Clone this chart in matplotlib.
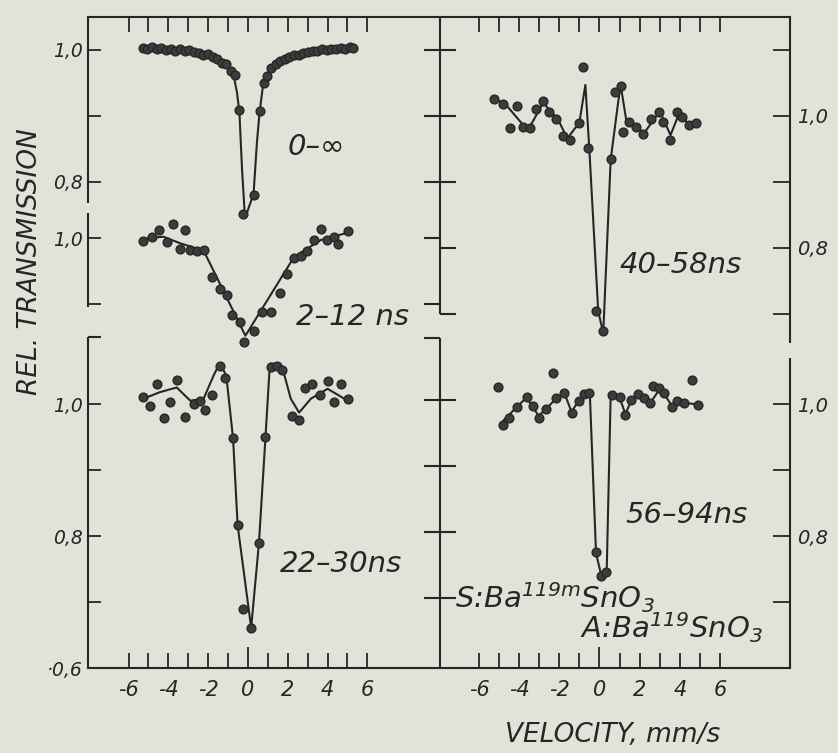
import matplotlib
matplotlib.use('Agg')
import matplotlib.pyplot as plt
import numpy as np

# ---------------- data (velocity mm/s, relative transmission) ----------------
# Left panel
v_inf = [-5.28, -5.05, -4.82, -4.58, -4.35, -4.12, -3.88, -3.65, -3.42, -3.18, -2.95, -2.72,
         -2.48, -2.25, -2.02, -1.78, -1.55, -1.32, -1.08, -0.85, -0.63, -0.43, -0.23, 0.28,
         0.58, 0.80, 0.98, 1.18, 1.40, 1.62, 1.85, 2.08, 2.32, 2.55, 2.78, 3.02, 3.25, 3.48,
         3.72, 3.95, 4.18, 4.42, 4.65, 4.88, 5.12, 5.28]
t_inf = [1.003, 1.002, 1.004, 1.001, 1.003, 1.000, 1.002, 0.999, 1.001, 0.998, 1.000, 0.997,
         0.996, 0.993, 0.994, 0.990, 0.987, 0.981, 0.978, 0.968, 0.962, 0.909, 0.751, 0.781,
         0.907, 0.950, 0.960, 0.972, 0.979, 0.984, 0.986, 0.990, 0.993, 0.992, 0.996, 0.997,
         0.999, 0.998, 1.001, 1.000, 1.002, 1.001, 1.003, 1.002, 1.004, 1.003]
fit_v_inf = [-5.3, -4.0, -3.0, -2.2, -1.6, -1.2, -0.9, -0.7, -0.55, -0.43, -0.3, -0.15,
             0.28, 0.45, 0.58, 0.75, 0.95, 1.3, 1.8, 2.5, 3.5, 5.3]
fit_t_inf = [1.003, 1.002, 0.999, 0.995, 0.988, 0.980, 0.970, 0.958, 0.935, 0.905, 0.82, 0.745,
             0.782, 0.860, 0.905, 0.945, 0.962, 0.977, 0.987, 0.994, 0.999, 1.003]

v_2_12 = [-5.26, -4.84, -4.45, -4.05, -3.78, -3.44, -3.16, -2.90, -2.57, -2.20, -1.81, -1.42,
          -1.05, -0.80, -0.38, -0.18, 0.29, 0.72, 1.17, 1.61, 1.94, 2.31, 2.65, 2.99, 3.32,
          3.66, 3.96, 4.30, 4.50, 5.01]
t_2_12 = [0.996, 1.001, 1.012, 0.994, 1.021, 0.984, 1.012, 0.982, 0.981, 0.982, 0.941, 0.922,
          0.914, 0.884, 0.873, 0.843, 0.859, 0.888, 0.888, 0.917, 0.946, 0.969, 0.973, 0.981,
          0.997, 1.013, 0.997, 1.001, 0.991, 1.010]
fit_v_2_12 = [-5.26, -4.25, -3.41, -2.23, -0.13, 2.31, 3.66, 5.01]
fit_t_2_12 = [0.999, 1.002, 0.992, 0.981, 0.852, 0.971, 0.997, 1.008]

v_22_30 = [-5.26, -4.94, -4.57, -4.21, -3.93, -3.55, -3.16, -2.70, -2.40, -2.15, -1.81, -1.42,
           -1.14, -0.75, -0.52, -0.24, 0.16, 0.55, 0.88, 1.14, 1.47, 1.73, 2.23, 2.57, 2.85,
           3.24, 3.63, 4.00, 4.30, 4.67, 5.04]
t_22_30 = [1.011, 0.997, 1.031, 0.979, 1.003, 1.036, 0.981, 1.000, 1.005, 0.991, 1.014, 1.058,
           1.039, 0.948, 0.816, 0.690, 0.661, 0.789, 0.950, 1.056, 1.058, 1.051, 0.982, 0.976,
           1.025, 1.030, 1.014, 1.035, 1.003, 1.030, 1.007]
fit_v_22_30 = [-5.26, -4.42, -3.58, -2.90, -2.23, -1.73, -1.42, -1.09, -0.75, -0.52, 0.16, 0.55,
               0.88, 1.10, 1.47, 1.81, 2.15, 2.57, 3.16, 4.00, 5.01]
fit_t_22_30 = [1.008, 1.018, 1.025, 1.005, 1.008, 1.043, 1.062, 1.043, 0.948, 0.816, 0.661, 0.789,
               0.950, 1.061, 1.061, 1.046, 1.008, 0.987, 1.008, 1.023, 1.005]

# Right panel
v_40_58 = [-5.27, -4.78, -4.43, -4.13, -3.83, -3.48, -3.18, -2.79, -2.49, -2.14, -1.79, -1.49,
           -1.04, -0.80, -0.57, -0.15, 0.20, 0.57, 0.77, 1.05, 1.19, 1.49, 1.84, 2.19, 2.59,
           2.99, 3.18, 3.53, 3.88, 4.13, 4.48, 4.83]
t_40_58 = [1.026, 1.018, 0.982, 1.015, 0.983, 0.982, 1.011, 1.023, 1.006, 0.996, 0.970, 0.964,
           0.989, 1.074, 0.952, 0.705, 0.674, 0.935, 1.036, 1.045, 0.976, 0.991, 0.983, 0.973,
           0.995, 1.006, 0.991, 0.964, 1.006, 0.998, 0.986, 0.989]
fit_v_40_58 = [-5.20, -4.71, -3.79, -3.46, -2.80, -2.05, -1.60, -1.00, -0.70, -0.51, -0.06, 0.19,
               0.56, 1.05, 1.35, 1.85, 2.22, 3.01, 3.54, 3.97, 4.34, 4.87]
fit_t_40_58 = [1.025, 1.019, 0.986, 0.984, 1.020, 0.994, 0.966, 0.990, 1.047, 0.953, 0.704, 0.671,
               0.934, 1.048, 0.991, 0.984, 0.974, 1.007, 0.971, 1.004, 0.991, 0.989]

v_56_94 = [-5.07, -4.78, -4.48, -4.13, -3.63, -3.33, -3.03, -2.64, -2.29, -2.14, -1.74, -1.39,
           -1.04, -0.75, -0.50, -0.15, 0.10, 0.35, 0.65, 1.00, 1.29, 1.59, 1.94, 2.24, 2.54,
           2.68, 2.99, 3.23, 3.63, 3.88, 4.23, 4.63, 4.93]
t_56_94 = [1.026, 0.968, 0.979, 0.995, 1.011, 0.997, 0.979, 0.992, 1.047, 1.009, 1.017, 0.986,
           1.005, 1.015, 1.017, 0.776, 0.740, 0.746, 1.014, 1.010, 0.983, 1.006, 1.015, 1.009,
           1.001, 1.027, 1.024, 1.016, 0.995, 1.005, 1.002, 1.036, 0.998]
fit_v_56_94 = [-4.78, -4.13, -3.63, -3.03, -2.64, -2.14, -1.74, -1.39, -1.04, -0.48, -0.17, 0.11,
               0.36, 0.56, 1.00, 1.29, 1.59, 1.94, 2.54, 2.99, 3.23, 3.63, 3.88, 4.23, 4.93]
fit_t_56_94 = [0.975, 0.995, 1.010, 0.982, 0.993, 1.009, 1.016, 0.988, 1.005, 1.017, 0.774, 0.738,
               0.744, 1.014, 1.010, 0.985, 1.005, 1.014, 1.002, 1.022, 1.015, 0.996, 1.004, 1.002,
               0.999]

labels_left = ['0–∞', '2–12 ns', '22–30ns']
labels_right = ['40–58ns', '56–94ns']
vel_ticks = [-6, -5, -4, -3, -2, -1, 0, 1, 2, 3, 4, 5, 6]
source_label = 'S:Ba$^{119m}$SnO$_3$'
absorber_label = 'A:Ba$^{119}$SnO$_3$'
xlabel = 'VELOCITY, mm/s'
ylabel = 'REL. TRANSMISSION'

# ---------------- layout / style ----------------
PAPER = '#e3e2d9'
INK = '#262626'
LW = 1.5
W, H = 838, 753
Y0, Y1 = 0.6, 0.6 + 651 / 660.0
OFF_INF, OFF_212, OFF_2230 = 0.5364, 0.2515, 0.0
OFF_4058, OFF_5694 = 0.4364, 0.0
XL = (-8.04, 9.65)
XR = (-7.94, 9.49)

plt.rcParams['font.family'] = ['DejaVu Sans']
plt.rcParams['axes.unicode_minus'] = False
plt.rcParams['mathtext.fontset'] = 'custom'
plt.rcParams['mathtext.rm'] = 'DejaVu Sans:italic'
plt.rcParams['mathtext.it'] = 'DejaVu Sans:italic'
plt.rcParams['mathtext.default'] = 'it'

fig = plt.figure(figsize=(W / 100, H / 100), dpi=100, facecolor=PAPER)
bottom = (H - 668) / H
height = (668 - 17) / H
axL = fig.add_axes([88 / W, bottom, (440 - 88) / W, height])
axR = fig.add_axes([440 / W, bottom, (790 - 440) / W, height])

for ax, xl in ((axL, XL), (axR, XR)):
    ax.set_facecolor('none')
    ax.set_xlim(*xl)
    ax.set_ylim(Y0, Y1)
    ax.spines['left'].set_visible(False)
    ax.spines['right'].set_visible(False)
    for s in ('top', 'bottom'):
        ax.spines[s].set_linewidth(LW)
        ax.spines[s].set_color(INK)
    ax.set_xticks(vel_ticks)
    ax.set_xticklabels([str(t) if t % 2 == 0 else '' for t in vel_ticks])
    ax.tick_params(axis='x', direction='in', top=True, bottom=True, length=11, width=1.3,
                   colors=INK, labelsize=15, pad=9)
    for lab in ax.get_xticklabels():
        lab.set_style('italic')
    for tk, val in zip(ax.xaxis.get_major_ticks(), vel_ticks):
        if val == 0:
            tk.tick1line.set_markersize(15)

# left outer axis ticks / labels
yt_left = [OFF_INF + 1.0, OFF_INF + 0.9, OFF_INF + 0.8, OFF_212 + 1.0, OFF_212 + 0.9,
           1.0, 0.9, 0.8, 0.7, 0.6]
yl_left = ['1,0', '', '0,8', '1,0', '', '1,0', '', '0,8', '', '·0,6']
axL.set_yticks(yt_left)
axL.set_yticklabels(yl_left)
axL.tick_params(axis='y', direction='in', left=True, right=False, length=9.4, width=1.3,
                colors=INK, labelsize=13.5, pad=4)
for lab in axL.get_yticklabels():
    lab.set_style('italic')

yt_right = [OFF_4058 + 1.1, OFF_4058 + 1.0, OFF_4058 + 0.9, OFF_4058 + 0.8, OFF_4058 + 0.7,
            1.0, 0.9, 0.8, 0.7]
yl_right = ['', '1,0', '', '0,8', '', '1,0', '', '0,8', '']
axR.yaxis.tick_right()
axR.set_yticks(yt_right)
axR.set_yticklabels(yl_right)
axR.tick_params(axis='y', direction='in', right=True, left=False, labelright=True,
                labelleft=False, length=12, width=1.3, colors=INK, labelsize=14, pad=5)
for lab in axR.get_yticklabels():
    lab.set_style('italic')

def seg(ax, x0, x1, y0, y1):
    ax.plot([x0, x1], [y0, y1], color=INK, lw=LW, clip_on=False, solid_capstyle='butt')

# left outer axis broken segments
seg(axL, XL[0], XL[0], Y1, OFF_INF + 0.768)
seg(axL, XL[0], XL[0], OFF_212 + 1.038, OFF_212 + 0.896)
seg(axL, XL[0], XL[0], 1.1015, Y0)
seg(axL, XL[0], XL[0] + 0.65, 1.1015, 1.1015)

# divider
dxl = 0.8
seg(axL, XL[1], XL[1], Y1, 1.1364)
seg(axL, XL[1], XL[1], 1.10, Y0)
seg(axL, XL[1] - dxl, XL[1], 1.10, 1.10)
for y in (OFF_INF + 1.0, OFF_INF + 0.9, OFF_INF + 0.8, 1.006, 0.906, 0.806, 0.706):
    seg(axL, XL[1] - dxl, XL[1] + dxl, y, y)
for y in (OFF_212 + 1.0, OFF_212 + 0.9):
    seg(axL, XL[1] - dxl, XL[1], y, y)
for y in (OFF_4058 + 0.8, OFF_4058 + 0.7):
    seg(axR, XR[0], XR[0] + dxl, y, y)

# right outer axis broken segments
seg(axR, XR[1], XR[1], Y1, OFF_4058 + 0.656)
seg(axR, XR[1], XR[1], 1.0697, Y0)

# ---------------- spectra ----------------
mk = dict(ls='none', marker='o', ms=6.3, mfc='#3c3c3c', mec=INK, mew=1.0, zorder=3)
ln = dict(color=INK, lw=1.5, zorder=2)

axL.plot(fit_v_inf, np.array(fit_t_inf) + OFF_INF, **ln)
axL.plot(v_inf, np.array(t_inf) + OFF_INF, **mk)
axL.plot(fit_v_2_12, np.array(fit_t_2_12) + OFF_212, **ln)
axL.plot(v_2_12, np.array(t_2_12) + OFF_212, **mk)
axL.plot(fit_v_22_30, np.array(fit_t_22_30) + OFF_2230, **ln)
axL.plot(v_22_30, np.array(t_22_30) + OFF_2230, **mk)

axR.plot(fit_v_40_58, np.array(fit_t_40_58) + OFF_4058, **ln)
axR.plot(v_40_58, np.array(t_40_58) + OFF_4058, **mk)
axR.plot(fit_v_56_94, np.array(fit_t_56_94) + OFF_5694, **ln)
axR.plot(v_56_94, np.array(t_56_94) + OFF_5694, **mk)

tx = dict(color=INK, style='italic', fontsize=21, ha='left', va='baseline')
axL.text(2.01, 1.3773, labels_left[0], **tx)
axL.text(2.41, 1.1197, labels_left[1], **tx)
axL.text(1.61, 0.7459, labels_left[2], **tx)
axR.text(1.02, 1.1985, labels_right[0], **tx)
axR.text(1.27, 0.8197, labels_right[1], **tx)
axR.text(-7.2, 0.691, source_label, **tx)
axR.text(-0.97, 0.6455, absorber_label, **tx)

fig.text(613 / W, 1 - 735 / H, xlabel, color=INK, style='italic', fontsize=19,
         ha='center', va='center')
fig.text(30 / W, 1 - 262 / H, ylabel, color=INK, style='italic', fontsize=19,
         ha='center', va='center', rotation=90)

fig.savefig('out.png', dpi=100, facecolor=PAPER)
